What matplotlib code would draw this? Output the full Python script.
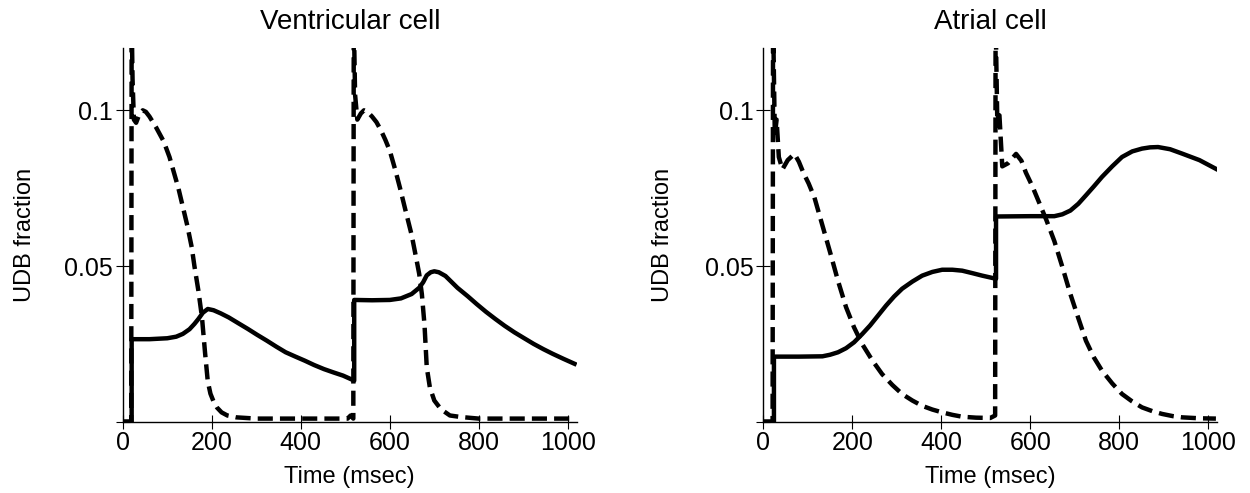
import matplotlib
matplotlib.use("Agg")
import matplotlib.pyplot as plt

# フォント（Arial 相当）
plt.rcParams['font.family'] = ['Liberation Sans', 'DejaVu Sans']

# --- データ ---
titles = ["Ventricular cell", "Atrial cell"]

# 心室細胞：実線
vent_solid_t = [0, 20, 20, 60, 100, 120, 135, 150, 161, 170, 180, 191, 204, 220, 238,
                260, 281, 302, 324, 345, 366, 388, 409, 430, 452, 474, 495, 520, 520,
                560, 600, 625, 649, 666, 675, 683, 692, 700, 710, 725, 752, 775, 795,
                816, 837, 858, 880, 902, 923, 945, 966, 990, 1015]
vent_solid_y = [0, 0, 0.0265, 0.0265, 0.0268, 0.0273, 0.0282, 0.0297, 0.0314, 0.033,
                0.035, 0.0362, 0.0358, 0.0348, 0.0335, 0.0316, 0.0298, 0.0279, 0.026,
                0.0241, 0.0223, 0.0209, 0.0196, 0.0182, 0.0169, 0.0158, 0.0148, 0.0132,
                0.0391, 0.039, 0.0391, 0.0396, 0.041, 0.043, 0.0448, 0.047, 0.048,
                0.0483, 0.048, 0.0468, 0.043, 0.0403, 0.0378, 0.0353, 0.033, 0.0308,
                0.0287, 0.0268, 0.025, 0.0233, 0.0218, 0.0202, 0.0186]

# 心室細胞：破線
vent_dash_t = [0, 19, 20, 22, 25, 30, 38, 45, 52, 60, 75, 92, 105, 115, 125, 135, 145,
               155, 161, 170, 178, 185, 191, 197, 204, 212, 222, 235, 255, 300, 400,
               505, 512, 518, 519, 522, 527, 535, 542, 550, 560, 570, 580, 590, 600,
               612, 623, 635, 649, 660, 666, 672, 678, 683, 690, 700, 715, 735, 760,
               800, 900, 1015]
vent_dash_y = [0, 0, 0.13, 0.11, 0.097, 0.096, 0.099, 0.1, 0.0995, 0.098, 0.0945,
               0.09, 0.085, 0.08, 0.075, 0.069, 0.063, 0.056, 0.05, 0.042, 0.0335,
               0.022, 0.013, 0.009, 0.0065, 0.0045, 0.003, 0.002, 0.0014, 0.001, 0.001,
               0.001, 0.002, 0.001, 0.13, 0.105, 0.097, 0.099, 0.1, 0.0995, 0.098,
               0.0962, 0.0936, 0.0905, 0.087, 0.081, 0.075, 0.068, 0.06, 0.052, 0.0475,
               0.041, 0.031, 0.0175, 0.011, 0.0068, 0.004, 0.002, 0.0015, 0.001, 0.001,
               0.001]

# 心房細胞：実線
atr_solid_t = [0, 24, 24, 80, 133, 150, 168, 186, 204, 222, 240, 258, 276, 294, 312,
               335, 357, 380, 402, 425, 447, 470, 492, 523, 523, 600, 654, 672, 690,
               708, 725, 743, 761, 784, 806, 829, 851, 869, 887, 914, 941, 980, 1017]
atr_solid_y = [0, 0, 0.0209, 0.0209, 0.021, 0.0215, 0.0223, 0.0236, 0.0255, 0.0281,
               0.0309, 0.0341, 0.0373, 0.0402, 0.0427, 0.045, 0.0469, 0.0481, 0.0488,
               0.0488, 0.0485, 0.0477, 0.0469, 0.0459, 0.0659, 0.066, 0.066, 0.0666,
               0.0678, 0.07, 0.0727, 0.0756, 0.0786, 0.082, 0.085, 0.0868, 0.0877,
               0.0881, 0.0882, 0.0875, 0.0861, 0.084, 0.0812]

# 心房細胞：破線
atr_dash_t = [0, 21, 22, 26, 30, 35, 43, 55, 70, 80, 90, 102, 115, 133, 151, 168, 186,
              204, 222, 245, 267, 290, 312, 335, 357, 380, 402, 425, 447, 478, 510,
              521, 522, 526, 530, 537, 550, 568, 580, 590, 604, 618, 636, 654, 672,
              690, 708, 725, 743, 761, 784, 806, 829, 851, 874, 896, 920, 941, 980,
              1017]
atr_dash_y = [0, 0, 0.13, 0.092, 0.097, 0.085, 0.081, 0.084, 0.086, 0.0835, 0.08,
              0.0765, 0.072, 0.063, 0.054, 0.0452, 0.0368, 0.0303, 0.025, 0.0197,
              0.0153, 0.0118, 0.0089, 0.0068, 0.0051, 0.0039, 0.003, 0.0022, 0.0016,
              0.0013, 0.0012, 0.002, 0.13, 0.095, 0.1, 0.082, 0.083, 0.086, 0.0838,
              0.08, 0.0758, 0.071, 0.0648, 0.058, 0.0497, 0.041, 0.0332, 0.026, 0.0206,
              0.0164, 0.0123, 0.0089, 0.0065, 0.0046, 0.0034, 0.0025, 0.0018, 0.0014,
              0.0011, 0.001]

series = [
    (vent_solid_t, vent_solid_y, vent_dash_t, vent_dash_y),
    (atr_solid_t, atr_solid_y, atr_dash_t, atr_dash_y),
]

xticks = [0, 200, 400, 600, 800, 1000]
yticks = [0, 0.05, 0.1]
ytick_labels = ["", "0.05", "0.1"]

fig = plt.figure(figsize=(12.5, 4.93), dpi=100)
lefts = [0.0982, 0.6106]
label_x = [-0.215, -0.221]

for i in range(2):
    ax = fig.add_axes([lefts[i], 0.1446, 0.3632, 0.758])
    st, sy, dt, dy = series[i]
    ax.plot(st, sy, color="black", lw=3.2, solid_joinstyle="round")
    ax.plot(dt, dy, color="black", lw=3.2, linestyle=(0, (3.4, 1.6)))

    ax.set_xlim(0, 1020)
    ax.set_ylim(0, 0.12)
    ax.set_xticks(xticks)
    ax.set_xticklabels([str(v) for v in xticks])
    ax.set_yticks(yticks)
    ax.set_yticklabels(ytick_labels)
    ax.tick_params(direction="inout", length=10, width=0.8, labelsize=18, pad=2)

    for side in ["top", "right"]:
        ax.spines[side].set_visible(False)
    for side in ["left", "bottom"]:
        ax.spines[side].set_linewidth(1.0)

    ax.set_ylabel("UDB fraction", fontsize=17, va="center")
    ax.yaxis.set_label_coords(label_x[i], 0.5)
    ax.set_xlabel("Time (msec)", fontsize=17, va="center")
    ax.xaxis.set_label_coords(0.5, -0.148)
    ax.text(0.5, 1.07, titles[i], transform=ax.transAxes, ha="center", va="center",
            fontsize=20)

fig.savefig("out.png", dpi=100)
